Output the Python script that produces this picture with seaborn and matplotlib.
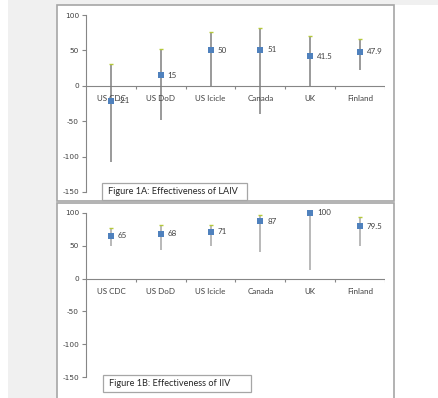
import matplotlib
matplotlib.use("Agg")
import matplotlib.pyplot as plt
from matplotlib.patches import Rectangle
import seaborn as sns
import pandas as pd

sns.set_theme(style="white")
plt.rcParams["font.family"] = ["Lato", "DejaVu Sans"]

categories = ["US CDC", "US DoD", "US Icicle", "Canada", "UK", "Finland"]

laiv_est = [-21, 15, 50, 51, 41.5, 47.9]
laiv_low = [-108, -48, 0, -40, 0, 22]
laiv_high = [31, 52, 76, 81, 70, 66]

iiv_est = [65, 68, 71, 87, 100, 79.5]
iiv_low = [50, 44, 49, 40, 13, 50]
iiv_high = [77, 82, 82, 97, 100, 93]

y_ticks = [100, 50, 0, -50, -100, -150]
titles = ["Figure 1A: Effectiveness of LAIV", "Figure 1B: Effectiveness of IIV"]

W, H = 438, 398
fig = plt.figure(figsize=(W / 100, H / 100), dpi=100)
fig.patch.set_facecolor("white")


# page background and chart frames (pixel layout converted to figure fractions)
def px_rect(x0, y0, x1, y1, **kw):
    return Rectangle((x0 / W, 1 - y1 / H), (x1 - x0) / W, (y1 - y0) / H,
                     transform=fig.transFigure, **kw)


fig.patches.append(px_rect(8, 0, W, 5, facecolor="#f0f0f0", edgecolor="none", zorder=-3))
fig.patches.append(px_rect(8, 0, 57, H, facecolor="#f0f0f0", edgecolor="none", zorder=-3))
fig.patches.append(px_rect(57, 5, 394, 201, facecolor="white", edgecolor="#a6a6a6", lw=1.2, zorder=-2))
fig.patches.append(px_rect(57, 203, 394, H + 2, facecolor="white", edgecolor="#a6a6a6", lw=1.2, zorder=-2))

panels = [
    (laiv_est, laiv_low, laiv_high, (86, 15, 385, 192), "#7f7f7f", (102, 183, 247, 199.5)),
    (iiv_est, iiv_low, iiv_high, (86, 212.7, 385, 377.3), "#a6a6a6", (103, 374.5, 251, 392)),
]

for (est, lo, hi, box, barcol, tbox), title in zip(panels, titles):
    x0, y0, x1, y1 = box
    ax = fig.add_axes([x0 / W, 1 - y1 / H, (x1 - x0) / W, (y1 - y0) / H])
    ax.set_facecolor("none")
    df = pd.DataFrame({"site": categories, "ve": est, "lo": lo, "hi": hi})
    xs = list(range(len(categories)))
    ax.vlines(xs, df["lo"], df["hi"], color=barcol, lw=1.1, zorder=2, clip_on=False)
    ax.scatter(xs, df["hi"], marker="_", s=5, color="#b5c93a", lw=1, zorder=3, clip_on=False)
    sns.scatterplot(data=df, x="site", y="ve", marker="s", s=15, color="#4f81bd",
                    edgecolor="#4f81bd", linewidth=0, ax=ax, zorder=4)
    for coll in ax.collections:
        coll.set_clip_on(False)
    for i, v in enumerate(est):
        ax.annotate(f"{v:g}", (i, v), xytext=(5, 0), textcoords="offset points",
                    ha="left", va="center", fontsize=5.8, color="#404040")
    ax.set_xlim(-0.5, len(categories) - 0.5)
    ax.set_ylim(-150, 100)
    ax.set_yticks(y_ticks)
    ax.set_yticklabels([str(t) for t in y_ticks], fontsize=5.3, color="#404040",
                       family=["DejaVu Sans"])
    ax.set_xticks([])
    ax.set_xlabel("")
    ax.set_ylabel("")
    for s in ["top", "right", "bottom"]:
        ax.spines[s].set_visible(False)
    ax.spines["left"].set_color("#868686")
    ax.spines["left"].set_linewidth(0.8)
    ax.tick_params(axis="y", left=True, length=3, width=0.8, color="#868686", pad=2)
    # category axis drawn through zero, with dividers between categories
    ax.axhline(0, color="#868686", lw=0.8, zorder=1)
    tick_len = 3 * 250 / (y1 - y0)
    ax.vlines([i + 0.5 for i in range(len(categories))], -tick_len, 0,
              color="#868686", lw=0.8)
    for i, c in enumerate(categories):
        ax.annotate(c, (i, 0), xytext=(0, -9), textcoords="offset points",
                    ha="center", va="center", fontsize=5.8, color="#404040")
    fig.patches.append(px_rect(*tbox, facecolor="white", edgecolor="#a6a6a6", lw=0.9, zorder=5))
    fig.text((tbox[0] + 6) / W, 1 - ((tbox[1] + tbox[3]) / 2) / H, title,
             ha="left", va="center", fontsize=6.6, color="#262626", zorder=6)

fig.savefig("out.png", dpi=100)
